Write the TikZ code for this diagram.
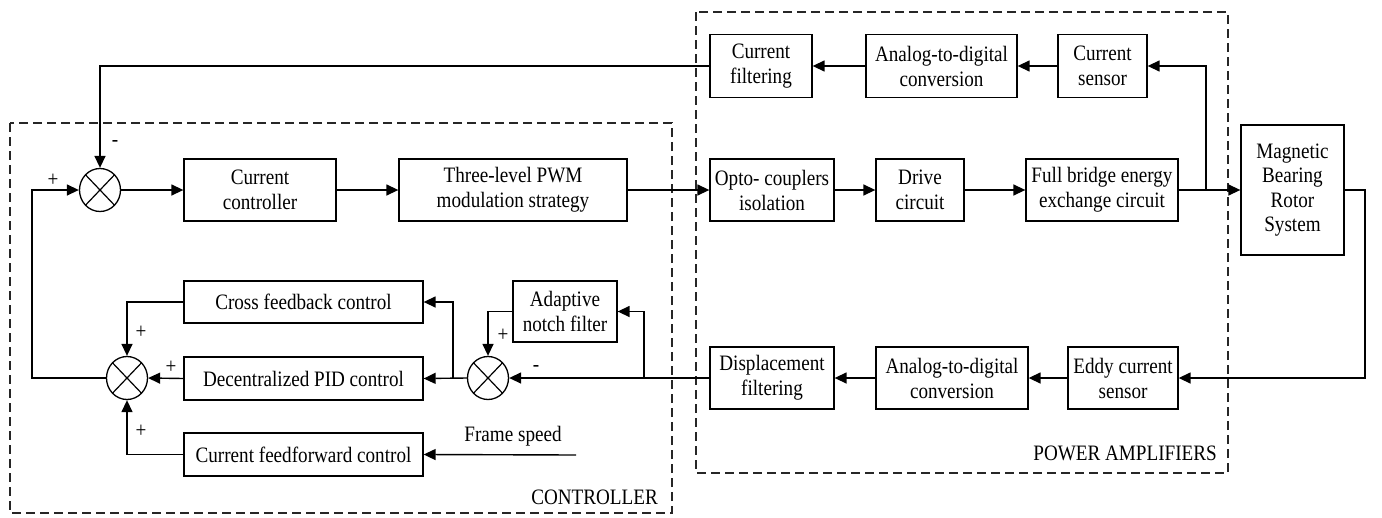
\documentclass[tikz,border=0pt]{standalone}
\usepackage{fontspec}
\setmainfont{Liberation Serif}
\newfontfamily\condserif{Liberation Serif}[FakeStretch=0.87]
\usetikzlibrary{arrows.meta,shapes.geometric}
\begin{document}
\begin{tikzpicture}[x=1pt,y=-1pt,
  txt/.style={font=\condserif\fontsize{22}{25}\selectfont},
  blk/.style={draw, line width=1.3pt, align=center, inner sep=0pt, txt},
  sumnode/.style={ellipse, draw, line width=1.3pt, minimum width=41pt, minimum height=43pt, inner sep=0pt,
    path picture={\draw[line width=1.2pt] (path picture bounding box.north west) -- (path picture bounding box.south east)
      (path picture bounding box.north east) -- (path picture bounding box.south west);}},
  arr/.style={line width=1.4pt, -{Triangle[length=12pt,width=11pt]}},
  grp/.style={draw=black!85, line width=1.2pt, dash pattern=on 9pt off 5pt},
  sgn/.style={txt, inner sep=0pt}]
\useasboundingbox (0,0) rectangle (1382,517);
% group frames
\draw[grp] (10,123) rectangle (672,513);
\draw[grp] (696,12) rectangle (1228,473);
\node[txt, anchor=east, inner sep=0pt] (ctrl) at (658,497) {CONTROLLER};
\node[txt, anchor=east, inner sep=0pt] (pa) at (1217,453) {POWER AMPLIFIERS};
% forward path
\node[sumnode] (sum1) at (100,190) {};
\node[blk, minimum width=152pt, minimum height=62pt] (cc) at (260,190) {Current\\controller};
\node[blk, minimum width=228pt, minimum height=62pt] (pwm) at (513,190) {Three-level PWM\\modulation strategy};
\node[blk, minimum width=124pt, minimum height=62pt] (opto) at (772,190) {Opto- couplers\\isolation};
\node[blk, minimum width=88pt, minimum height=62pt] (drive) at (920,190) {Drive\\circuit};
\node[blk, minimum width=152pt, minimum height=62pt] (fb) at (1102,190) {Full bridge energy\\exchange circuit};
\node[blk, minimum width=103pt, minimum height=130pt, font=\condserif\fontsize{22}{24.5}\selectfont] (mb) at (1292.5,190) {Magnetic\\Bearing\\Rotor\\System};
% current feedback row
\node[blk, minimum width=102pt, minimum height=63pt] (cf) at (761,66) {Current\\filtering};
\node[blk, minimum width=151pt, minimum height=63pt] (ad1) at (941.5,66) {Analog-to-digital\\conversion};
\node[blk, minimum width=89pt, minimum height=63pt] (cs) at (1102.5,66) {Current\\sensor};
% displacement row
\node[blk, minimum width=124pt, minimum height=62pt] (df) at (772,378) {Displacement\\filtering};
\node[blk, minimum width=152pt, minimum height=62pt] (ad2) at (952,378) {Analog-to-digital\\conversion};
\node[blk, minimum width=110pt, minimum height=62pt] (eddy) at (1123,378) {Eddy current\\sensor};
% controller internals
\node[sumnode] (sum2) at (127,378) {};
\node[sumnode] (sum3) at (488,378) {};
\node[blk, minimum width=104pt, minimum height=61pt] (notch) at (565,311.5) {Adaptive\\notch filter};
\node[blk, minimum width=239pt, minimum height=42pt] (cfb) at (303.5,302) {Cross feedback control};
\node[blk, minimum width=239pt, minimum height=43pt] (pid) at (303.5,378.5) {Decentralized PID control};
\node[blk, minimum width=239pt, minimum height=43pt] (cff) at (303.5,454.5) {Current feedforward control};
\node[txt, inner sep=0pt] (fsl) at (513,436) {Frame speed};
% coordinates
\coordinate (b1) at (1206,190);
\coordinate (r1) at (1365,190);
\coordinate (b2) at (644,378);
\coordinate (b3) at (453,378);
\coordinate (l1) at (32,190);
\coordinate (fs) at (576,455);
% connectors
\draw[arr] (sum1.east) -- (cc.west);
\draw[arr] (cc.east) -- (pwm.west);
\draw[arr] (pwm.east) -- (opto.west);
\draw[arr] (opto.east) -- (drive.west);
\draw[arr] (drive.east) -- (fb.west);
\draw[arr] (fb.east) -- (mb.west);
\draw[arr] (b1) |- (cs.east);
\draw[arr] (cs.west) -- (ad1.east);
\draw[arr] (ad1.west) -- (cf.east);
\draw[arr] (cf.west) -| (sum1.north);
\draw[arr] (mb.east) -- (r1) |- (eddy.east);
\draw[arr] (eddy.west) -- (ad2.east);
\draw[arr] (ad2.west) -- (df.east);
\draw[arr] (df.west) -- (sum3.east);
\draw[arr] (b2) |- (notch.east);
\draw[arr] (notch.west) -| (sum3.north);
\draw[arr] (sum3.west) -- (pid.east);
\draw[arr] (b3) |- (cfb.east);
\draw[arr] (cfb.west) -| (sum2.north);
\draw[arr] (pid.west) -- (sum2.east);
\draw[arr] (cff.west) -| (sum2.south);
\draw[arr] (fs) -- (cff.east);
\draw[arr] (sum2.west) -| (l1) -- (sum1.west);
% signs
\node[sgn] (s1a) at (53,180) {+};
\node[sgn] (s1b) at (115,143) {-};
\node[sgn] (s2a) at (141,332) {+};
\node[sgn] (s2b) at (171,367) {+};
\node[sgn] (s2c) at (141,431) {+};
\node[sgn] (s3a) at (503,335) {+};
\node[sgn] (s3b) at (536,368) {-};
\end{tikzpicture}
\end{document}
